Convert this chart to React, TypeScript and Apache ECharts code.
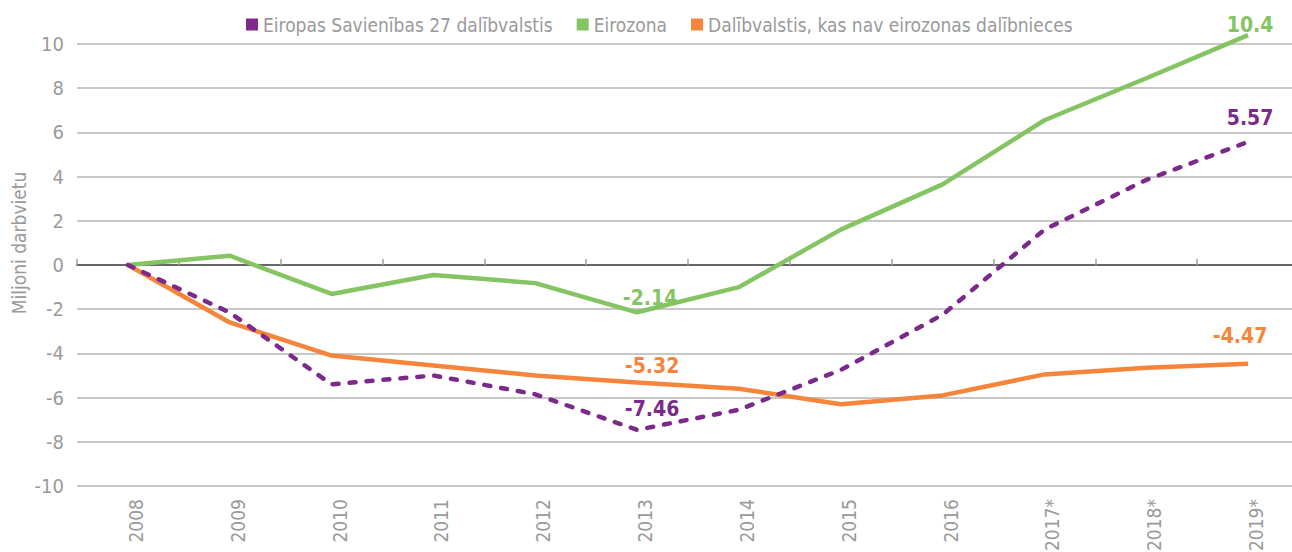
import React, { useEffect, useRef } from "react";
import * as echarts from "echarts";

const categories = ["2008", "2009", "2010", "2011", "2012", "2013", "2014", "2015", "2016", "2017*", "2018*", "2019*"];
const eu27 = [0, -2.15, -5.4, -5.0, -5.85, -7.46, -6.55, -4.75, -2.25, 1.6, 3.85, 5.57];
const eurozone = [0, 0.42, -1.31, -0.45, -0.82, -2.14, -1.0, 1.6, 3.65, 6.55, 8.45, 10.4];
const nonEuro = [0, -2.6, -4.1, -4.55, -5.0, -5.32, -5.6, -6.3, -5.9, -4.95, -4.65, -4.47];
const seriesNames = ["Eiropas Savienības 27 dalībvalstis", "Eirozona", "Dalībvalstis, kas nav eirozonas dalībnieces"];
const yTicks = { min: -10, max: 10, step: 2 };
const yAxisTitle = "Miljoni darbvietu";
const labeledIdx = [5, 11];

const FONT = "'DejaVu Sans Condensed', 'DejaVu Sans', sans-serif";
const GRAY = "#9a9a9a";
const COLORS = ["#7b2a8b", "#85c462", "#f5853b"];

function buildData(values: number[], color: string, offsets: Record<number, [number, number]>) {
  return values.map((v, i) => {
    if (labeledIdx.indexOf(i) >= 0) {
      const off = offsets[i] || [0, 0];
      return {
        value: v,
        label: {
          show: true,
          position: "top",
          distance: 0,
          offset: off,
          formatter: String(v),
          color,
          fontFamily: FONT,
          fontSize: 21,
          fontWeight: "bold",
        },
      };
    }
    return v;
  });
}

export default function App() {
  const ref = useRef<HTMLDivElement>(null);
  useEffect(() => {
    document.body.style.margin = "0";
    document.body.style.overflow = "hidden";
    if (!ref.current) return;
    const chart = echarts.init(ref.current, undefined, { renderer: "svg" });
    chart.setOption({
      animation: false,
      textStyle: { fontFamily: FONT },
      legend: {
        top: 10,
        left: 241,
        icon: "rect",
        itemWidth: 12,
        itemHeight: 12,
        itemGap: 24,
        textStyle: { color: GRAY, fontSize: 19, fontFamily: FONT },
        data: seriesNames,
      },
      grid: { left: 77, top: 44, width: 1222, height: 442, outerBoundsMode: "none", containLabel: false },
      xAxis: [
        {
          type: "category",
          data: categories,
          position: "bottom",
          axisLine: { show: false, onZero: false },
          axisTick: { show: false },
          axisLabel: {
            rotate: 90,
            margin: 13,
            color: GRAY,
            fontSize: 19,
            fontFamily: FONT,
            verticalAlign: "top",
            lineHeight: 16,
          },
          splitLine: { show: false },
        },
        {
          type: "category",
          data: categories,
          position: "bottom",
          axisLine: { show: true, onZero: true, lineStyle: { color: "#666666", width: 2 } },
          axisTick: { show: true, inside: true, length: 6, lineStyle: { color: "#a0a0a0", width: 1.5 } },
          axisLabel: { show: false },
          splitLine: { show: false },
        },
      ],
      yAxis: {
        type: "value",
        min: yTicks.min,
        max: yTicks.max,
        interval: yTicks.step,
        axisLine: { show: false },
        axisTick: { show: false },
        axisLabel: { color: GRAY, fontSize: 20, margin: 13, fontFamily: FONT },
        splitLine: { lineStyle: { color: "#b5b5b5", width: 1.5 } },
      },
      graphic: [
        {
          type: "text",
          x: 9,
          y: 243,
          rotation: Math.PI / 2,
          style: {
            text: yAxisTitle,
            fill: GRAY,
            font: `19px ${FONT}`,
            textAlign: "center",
            textVerticalAlign: "top",
          },
        },
      ],
      series: [
        {
          name: seriesNames[1],
          type: "line",
          xAxisIndex: 0,
          data: buildData(eurozone, COLORS[1], { 5: [13, -4], 11: [2, 0] }),
          symbol: "circle",
          symbolSize: 0,
          showSymbol: true,
          clip: false,
          lineStyle: { color: COLORS[1], width: 4.5 },
          itemStyle: { color: COLORS[1] },
          z: 3,
        },
        {
          name: seriesNames[2],
          type: "line",
          xAxisIndex: 0,
          data: buildData(nonEuro, COLORS[2], { 5: [15, -6], 11: [-8, -17] }),
          symbol: "circle",
          symbolSize: 0,
          showSymbol: true,
          lineStyle: { color: COLORS[2], width: 4.5 },
          itemStyle: { color: COLORS[2] },
          z: 3,
        },
        {
          name: seriesNames[0],
          type: "line",
          xAxisIndex: 0,
          data: buildData(eu27, COLORS[0], { 5: [15, -10], 11: [2, -13] }),
          symbol: "circle",
          symbolSize: 0,
          showSymbol: true,
          lineStyle: { color: COLORS[0], width: 4.5, type: [6, 11], cap: "round" },
          itemStyle: { color: COLORS[0] },
          z: 4,
        },
      ],
    });
    return () => chart.dispose();
  }, []);
  return (
    <div
      ref={ref}
      style={{ position: "absolute", left: 0, top: 0, width: 1292, height: 552, overflow: "hidden" }}
    />
  );
}
